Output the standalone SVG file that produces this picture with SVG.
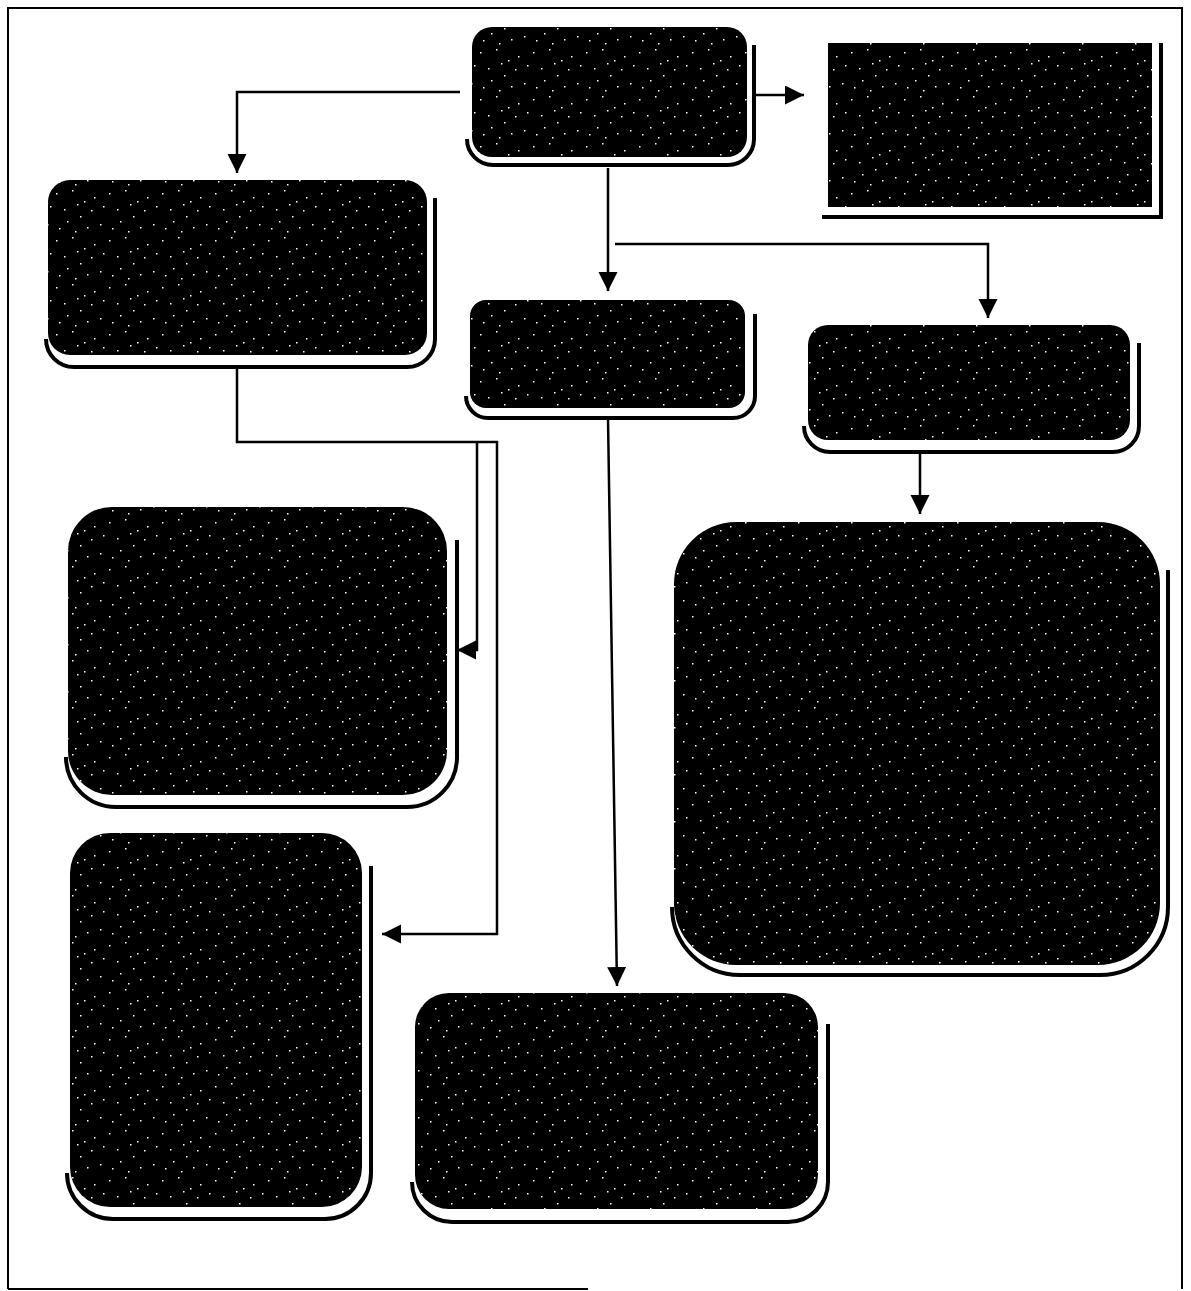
<svg xmlns="http://www.w3.org/2000/svg" width="1191" height="1291" viewBox="0 0 1191 1291">
<style>
.box{fill:url(#speckle);}
.shadow{fill:none;stroke:#000;stroke-width:4;}
.frame{fill:none;stroke:#000;stroke-width:2;}
.conn{fill:none;stroke:#000;stroke-width:2.5;}
</style>
<defs>
<pattern id="speckle" width="53" height="47" patternUnits="userSpaceOnUse">
<rect width="53" height="47" fill="#000"/>
<g fill="#fff">
<rect x="3" y="5" width="1.5" height="1.5"/>
<rect x="19" y="2" width="1.5" height="1.5"/>
<rect x="41" y="9" width="1.5" height="1.5"/>
<rect x="11" y="21" width="1.5" height="1.5"/>
<rect x="27" y="28" width="1.5" height="1.5"/>
<rect x="47" y="36" width="1.5" height="1.5"/>
<rect x="6" y="40" width="1.5" height="1.5"/>
<rect x="31" y="13" width="1.5" height="1.5"/>
<rect x="38" y="22" width="1.5" height="1.5"/>
<rect x="22" y="43" width="1.5" height="1.5"/>
<rect x="14" y="33" width="1.5" height="1.5"/>
<rect x="50" y="18" width="1.5" height="1.5"/>
<rect x="34" y="39" width="1.5" height="1.5"/>
<rect x="24" y="16" width="1.5" height="1.5"/>
</g>
</pattern>
<marker id="arrow" markerUnits="userSpaceOnUse" markerWidth="20" markerHeight="20" refX="19" refY="9.5" orient="auto">
<path d="M0,0 L19,9.5 L0,19 Z" fill="#000"/>
</marker>
</defs>
<g id="frame">
<path class="frame" d="M8,1289 V8 H1182 V1289"/>
<path class="frame" d="M8,1289 H588"/>
</g>
<g id="connectors">
<path class="conn" d="M460,92 H237 V173" marker-end="url(#arrow)"/>
<path class="conn" d="M756,95 H804" marker-end="url(#arrow)"/>
<path class="conn" d="M608,168 V291" marker-end="url(#arrow)"/>
<path class="conn" d="M615,244 H988 V318" marker-end="url(#arrow)"/>
<path class="conn" d="M237,368 V442 H497 V934 H382" marker-end="url(#arrow)"/>
<path class="conn" d="M477,442 V650 H457" marker-end="url(#arrow)"/>
<path class="conn" d="M608,419 L617,986" marker-end="url(#arrow)"/>
<path class="conn" d="M920,453 V514" marker-end="url(#arrow)"/>
</g>
<g id="node-a">
<path class="shadow" d="M467,139 A26,26 0 0 0 493,165 H728 A26,26 0 0 0 754,139 V45"/>
<rect class="box" x="472" y="27" width="275" height="130" rx="20"/>
</g>
<g id="node-b">
<path class="shadow" d="M822,217 H1161 V43"/>
<rect class="box" x="828" y="43" width="324" height="164"/>
</g>
<g id="node-c">
<path class="shadow" d="M46,339 A28,28 0 0 0 74,367 H407 A28,28 0 0 0 435,339 V198"/>
<rect class="box" x="48" y="180" width="379" height="175" rx="22"/>
</g>
<g id="node-d">
<path class="shadow" d="M466,396 A22,22 0 0 0 488,418 H733 A22,22 0 0 0 755,396 V314"/>
<rect class="box" x="470" y="300" width="275" height="108" rx="16"/>
</g>
<g id="node-e">
<path class="shadow" d="M804,426 A26,26 0 0 0 830,452 H1113 A26,26 0 0 0 1139,426 V343"/>
<rect class="box" x="808" y="325" width="322" height="115" rx="20"/>
</g>
<g id="node-f">
<path class="shadow" d="M66,757 A50,50 0 0 0 116,807 H407 A50,50 0 0 0 457,757 V540"/>
<rect class="box" x="68" y="507" width="379" height="288" rx="44"/>
</g>
<g id="node-g">
<path class="shadow" d="M67,1173 A46,46 0 0 0 113,1219 H325 A46,46 0 0 0 371,1173 V866"/>
<rect class="box" x="70" y="833" width="292" height="374" rx="40"/>
</g>
<g id="node-h">
<path class="shadow" d="M412,1182 A40,40 0 0 0 452,1222 H788 A40,40 0 0 0 828,1182 V1024"/>
<rect class="box" x="415" y="993" width="403" height="216" rx="34"/>
</g>
<g id="node-i">
<path class="shadow" d="M672,907 A68,68 0 0 0 740,975 H1100 A68,68 0 0 0 1168,907 V570"/>
<rect class="box" x="674" y="522" width="486" height="443" rx="62"/>
</g>
</svg>
